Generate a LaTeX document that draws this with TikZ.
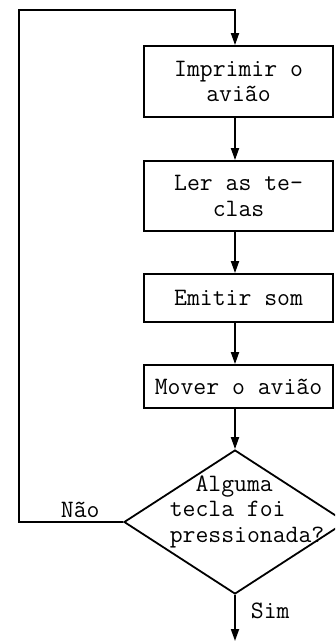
\documentclass[tikz,border=0pt]{standalone}
\usetikzlibrary{arrows.meta,shapes.geometric}
\begin{document}
\begin{tikzpicture}[x=1pt,y=-1pt,
  line width=1.8pt,
  txt/.style={font=\ttfamily\fontsize{25}{25.5}\selectfont, inner sep=0pt},
  box/.style={draw, txt, minimum width=189pt, align=center},
  flow/.style={-{Triangle[length=12pt,width=8pt]}}]
\useasboundingbox (0,0) rectangle (335,642);
\node[box, minimum height=71pt] (b1) at (238.5,81.5) {Imprimir o\\avião};
\node[box, minimum height=70pt] (b2) at (238.5,196) {Ler as te-\\clas};
\node[box, minimum height=48pt] (b3) at (238.5,298) {Emitir som};
\node[box, minimum height=43pt] (b4) at (238.5,386.5) {Mover o avião};
\begin{scope}
  \clip (0,0) rectangle (335,642);
  \node[draw, diamond, minimum width=222pt, minimum height=144pt, inner sep=0pt] (d) at (235,522) {};
\end{scope}
\node[txt, align=left] (q) at (247,511.5) {\phantom{Al}Alguma\\tecla foi\\pressionada?};
\node[txt, anchor=base west] (nao) at (60,517) {Não};
\node[txt, anchor=base west] (sim) at (250,618) {Sim};
\coordinate (c1) at (19,10);
\coordinate (fim) at (235,641);
\draw[flow] (b1.south -| d.north) -- (b2.north -| d.north);
\draw[flow] (b2.south -| d.north) -- (b3.north -| d.north);
\draw[flow] (b3.south -| d.north) -- (b4.north -| d.north);
\draw[flow] (b4.south -| d.north) -- (d.north);
\draw[flow] (d.south) -- (fim);
\draw[flow] (d.west) -| (c1) -| (b1.north -| d.north);
\end{tikzpicture}
\end{document}
